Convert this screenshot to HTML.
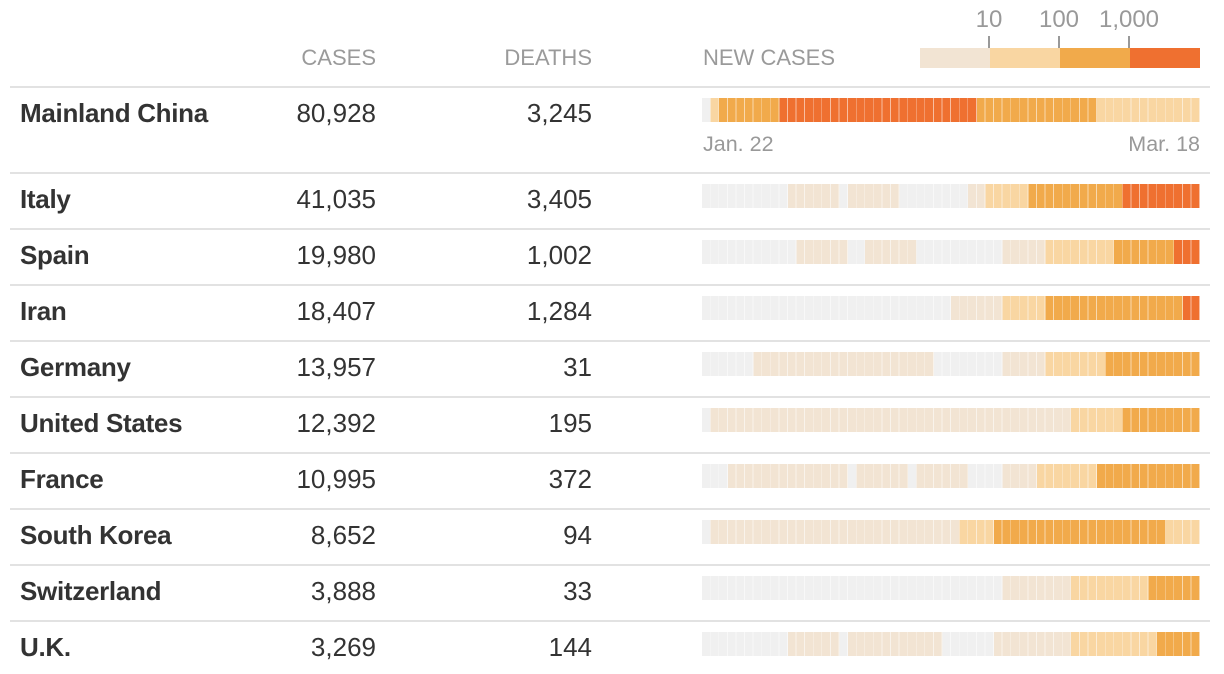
<!DOCTYPE html>
<html><head><meta charset="utf-8"><style>
body{margin:0;width:1224px;height:674px;background:#fff;position:relative;overflow:hidden;font-family:"Liberation Sans",sans-serif;}
.a{position:absolute;white-space:nowrap;line-height:1;}
.h{color:#9a9a9a;font-size:22px;top:47px;}
.n{font-weight:bold;font-size:26px;color:#333;left:20px;letter-spacing:-0.3px}
.v{font-size:26px;color:#333;text-align:right;}
.ln{position:absolute;left:10px;width:1200px;height:2px;background:#e2e2e2;}
.b{position:absolute;left:702px;width:498px;height:24px;--c:8.586px;}
.b::after{content:"";position:absolute;inset:0;background:repeating-linear-gradient(to right,transparent 0 7.8px,rgba(255,255,255,.55) 7.8px 8.586px);}
.lg{position:absolute;top:48px;height:20px;width:70px;}
.tk{position:absolute;top:36px;width:2px;height:12px;background:#999;}
.tl{position:absolute;top:8px;font-size:24px;color:#999;transform:translateX(-50%);}
</style></head><body>
<div class="a h" style="right:848px">CASES</div>
<div class="a h" style="right:632px">DEATHS</div>
<div class="a h" style="left:703px">NEW CASES</div>
<div class="lg" style="left:920px;background:#f2e4d3"></div>
<div class="lg" style="left:990px;background:#f9d6a2"></div>
<div class="lg" style="left:1060px;background:#f1aa4b"></div>
<div class="lg" style="left:1130px;background:#ef7030"></div>
<div class="tk" style="left:988px"></div><div class="tk" style="left:1058px"></div><div class="tk" style="left:1128px"></div>
<div class="a tl" style="left:989px">10</div><div class="a tl" style="left:1059px">100</div><div class="a tl" style="left:1129px">1,000</div>
<div class="ln" style="top:86px"></div>
<div class="a" style="left:703px;top:134px;font-size:21.5px;color:#999">Jan. 22</div>
<div class="a" style="right:24px;top:134px;font-size:21.5px;color:#999">Mar. 18</div>

<div class="a n" style="top:100px">Mainland China</div><div class="a v" style="top:100px;right:848px">80,928</div><div class="a v" style="top:100px;right:632px">3,245</div>
<div class="b" style="top:98px;background:linear-gradient(to right,#f0f0f0 0 var(--c),#f9d6a2 0 calc(var(--c)*2),#f1aa4b 0 calc(var(--c)*9),#ef7030 0 calc(var(--c)*32),#f1aa4b 0 calc(var(--c)*46),#f9d6a2 0)"></div>
<div class="ln" style="top:172px"></div>

<div class="a n" style="top:186px">Italy</div><div class="a v" style="top:186px;right:848px">41,035</div><div class="a v" style="top:186px;right:632px">3,405</div>
<div class="b" style="top:184px;background:linear-gradient(to right,#f0f0f0 0 calc(var(--c)*10),#f2e4d3 0 calc(var(--c)*16),#f0f0f0 0 calc(var(--c)*17),#f2e4d3 0 calc(var(--c)*23),#f0f0f0 0 calc(var(--c)*31),#f2e4d3 0 calc(var(--c)*33),#f9d6a2 0 calc(var(--c)*38),#f1aa4b 0 calc(var(--c)*49),#ef7030 0)"></div>
<div class="ln" style="top:228px"></div>

<div class="a n" style="top:242px">Spain</div><div class="a v" style="top:242px;right:848px">19,980</div><div class="a v" style="top:242px;right:632px">1,002</div>
<div class="b" style="top:240px;background:linear-gradient(to right,#f0f0f0 0 calc(var(--c)*11),#f2e4d3 0 calc(var(--c)*17),#f0f0f0 0 calc(var(--c)*19),#f2e4d3 0 calc(var(--c)*25),#f0f0f0 0 calc(var(--c)*35),#f2e4d3 0 calc(var(--c)*40),#f9d6a2 0 calc(var(--c)*48),#f1aa4b 0 calc(var(--c)*55),#ef7030 0)"></div>
<div class="ln" style="top:284px"></div>

<div class="a n" style="top:298px">Iran</div><div class="a v" style="top:298px;right:848px">18,407</div><div class="a v" style="top:298px;right:632px">1,284</div>
<div class="b" style="top:296px;background:linear-gradient(to right,#f0f0f0 0 calc(var(--c)*29),#f2e4d3 0 calc(var(--c)*35),#f9d6a2 0 calc(var(--c)*40),#f1aa4b 0 calc(var(--c)*56),#ef7030 0)"></div>
<div class="ln" style="top:340px"></div>

<div class="a n" style="top:354px">Germany</div><div class="a v" style="top:354px;right:848px">13,957</div><div class="a v" style="top:354px;right:632px">31</div>
<div class="b" style="top:352px;background:linear-gradient(to right,#f0f0f0 0 calc(var(--c)*6),#f2e4d3 0 calc(var(--c)*27),#f0f0f0 0 calc(var(--c)*35),#f2e4d3 0 calc(var(--c)*40),#f9d6a2 0 calc(var(--c)*47),#f1aa4b 0)"></div>
<div class="ln" style="top:396px"></div>

<div class="a n" style="top:410px">United States</div><div class="a v" style="top:410px;right:848px">12,392</div><div class="a v" style="top:410px;right:632px">195</div>
<div class="b" style="top:408px;background:linear-gradient(to right,#f0f0f0 0 var(--c),#f2e4d3 0 calc(var(--c)*43),#f9d6a2 0 calc(var(--c)*49),#f1aa4b 0)"></div>
<div class="ln" style="top:452px"></div>

<div class="a n" style="top:466px">France</div><div class="a v" style="top:466px;right:848px">10,995</div><div class="a v" style="top:466px;right:632px">372</div>
<div class="b" style="top:464px;background:linear-gradient(to right,#f0f0f0 0 calc(var(--c)*3),#f2e4d3 0 calc(var(--c)*17),#f0f0f0 0 calc(var(--c)*18),#f2e4d3 0 calc(var(--c)*24),#f0f0f0 0 calc(var(--c)*25),#f2e4d3 0 calc(var(--c)*31),#f0f0f0 0 calc(var(--c)*35),#f2e4d3 0 calc(var(--c)*39),#f9d6a2 0 calc(var(--c)*46),#f1aa4b 0)"></div>
<div class="ln" style="top:508px"></div>

<div class="a n" style="top:522px">South Korea</div><div class="a v" style="top:522px;right:848px">8,652</div><div class="a v" style="top:522px;right:632px">94</div>
<div class="b" style="top:520px;background:linear-gradient(to right,#f0f0f0 0 var(--c),#f2e4d3 0 calc(var(--c)*30),#f9d6a2 0 calc(var(--c)*34),#f1aa4b 0 calc(var(--c)*54),#f9d6a2 0)"></div>
<div class="ln" style="top:564px"></div>

<div class="a n" style="top:578px">Switzerland</div><div class="a v" style="top:578px;right:848px">3,888</div><div class="a v" style="top:578px;right:632px">33</div>
<div class="b" style="top:576px;background:linear-gradient(to right,#f0f0f0 0 calc(var(--c)*35),#f2e4d3 0 calc(var(--c)*43),#f9d6a2 0 calc(var(--c)*52),#f1aa4b 0)"></div>
<div class="ln" style="top:620px"></div>

<div class="a n" style="top:634px">U.K.</div><div class="a v" style="top:634px;right:848px">3,269</div><div class="a v" style="top:634px;right:632px">144</div>
<div class="b" style="top:632px;background:linear-gradient(to right,#f0f0f0 0 calc(var(--c)*10),#f2e4d3 0 calc(var(--c)*16),#f0f0f0 0 calc(var(--c)*17),#f2e4d3 0 calc(var(--c)*28),#f0f0f0 0 calc(var(--c)*34),#f2e4d3 0 calc(var(--c)*43),#f9d6a2 0 calc(var(--c)*53),#f1aa4b 0)"></div>
</body></html>
